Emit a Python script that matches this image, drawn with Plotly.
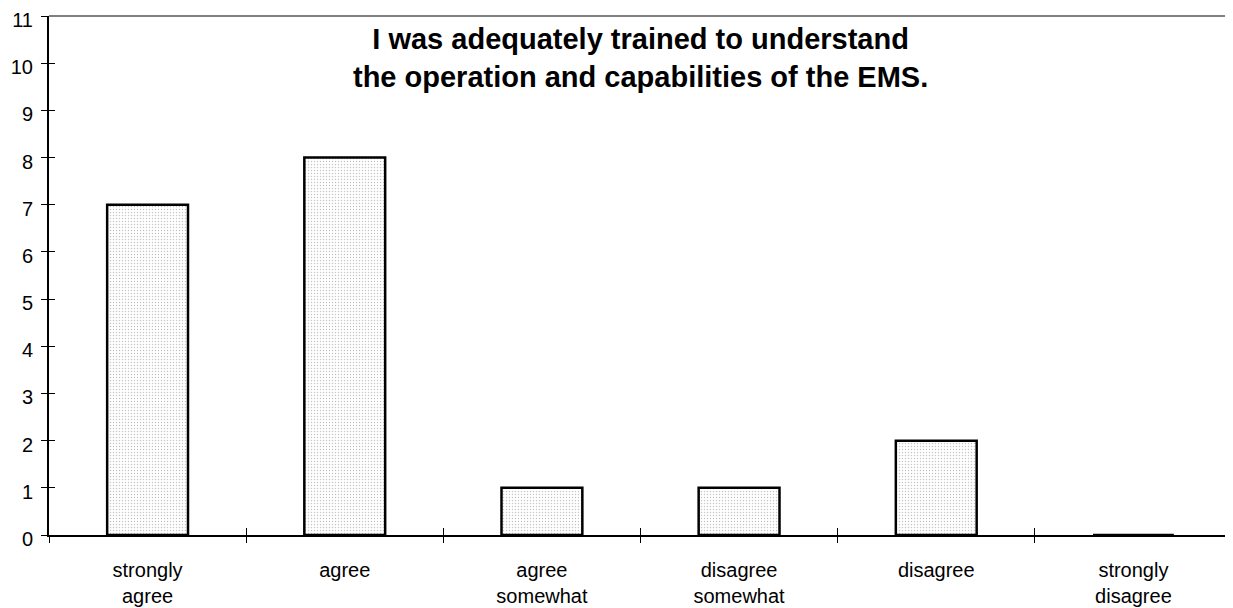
import plotly.graph_objects as go

categories = ["strongly<br>agree", "agree", "agree<br>somewhat", "disagree<br>somewhat", "disagree", "strongly<br>disagree"]
counts = [7, 8, 1, 1, 2, 0]
y_ticks = list(range(0, 12))
title_text = "<b>I was adequately trained to understand<br>the operation and capabilities of the EMS.</b>"

fig = go.Figure()
fig.add_trace(go.Bar(
    x=categories, y=counts, width=0.41,
    marker=dict(color="white", line=dict(color="black", width=2.5),
                pattern=dict(shape=".", fgcolor="#8c8c8c", bgcolor="white", size=3, solidity=0.18)),
    hoverinfo="x+y",
))
# invisible trace on overlay axes, only used to get ticks that cross the axis lines
fig.add_trace(go.Scatter(x=categories, y=counts, xaxis="x2", yaxis="y2",
                         mode="markers", marker=dict(opacity=0), hoverinfo="skip"))

font = dict(family="Arial, Liberation Sans, sans-serif", color="black")
# page body has an 8px margin, so the figure is shifted by 8px
fig.update_layout(
    width=1225, height=600,
    margin=dict(l=41, r=1, t=8, b=73),
    plot_bgcolor="white", paper_bgcolor="white",
    showlegend=False,
    font=dict(size=20, **font),
    xaxis=dict(showgrid=False, showline=True, linecolor="black", linewidth=2,
               ticks="outside", tickson="boundaries", ticklen=6, tickcolor="black",
               tickfont=dict(size=20), ticklabelstandoff=16, range=[-0.5, 5.5],
               automargin=False),
    yaxis=dict(range=[0, 11], tickvals=y_ticks, showgrid=False, zeroline=False,
               showline=True, linecolor="black", linewidth=2,
               ticks="outside", ticklen=6, tickcolor="black", tickfont=dict(size=20),
               ticklabelstandoff=4, ticklabelshift=4, ticklabeloverflow="allow",
               automargin=False),
    xaxis2=dict(overlaying="x", matches="x", showticklabels=False, showgrid=False,
                ticks="inside", tickson="boundaries", ticklen=7, tickcolor="black",
                showline=False, range=[-0.5, 5.5], automargin=False),
    yaxis2=dict(overlaying="y", range=[0, 11], tickvals=y_ticks, showticklabels=False,
                showgrid=False, zeroline=False, ticks="inside", ticklen=6, tickcolor="black",
                automargin=False),
    shapes=[
        dict(type="line", xref="paper", yref="paper", x0=0, x1=1, y0=1, y1=1,
             line=dict(color="#808080", width=2)),
        dict(type="line", xref="paper", yref="paper", x0=1, x1=1, y0=0, y1=1,
             line=dict(color="#808080", width=2)),
    ],
    annotations=[dict(text=title_text, xref="paper", yref="paper", x=0.5, y=0.99,
                      xanchor="center", yanchor="top", showarrow=False,
                      font=dict(size=29, **font))],
)

fig.write_html("out.html")
